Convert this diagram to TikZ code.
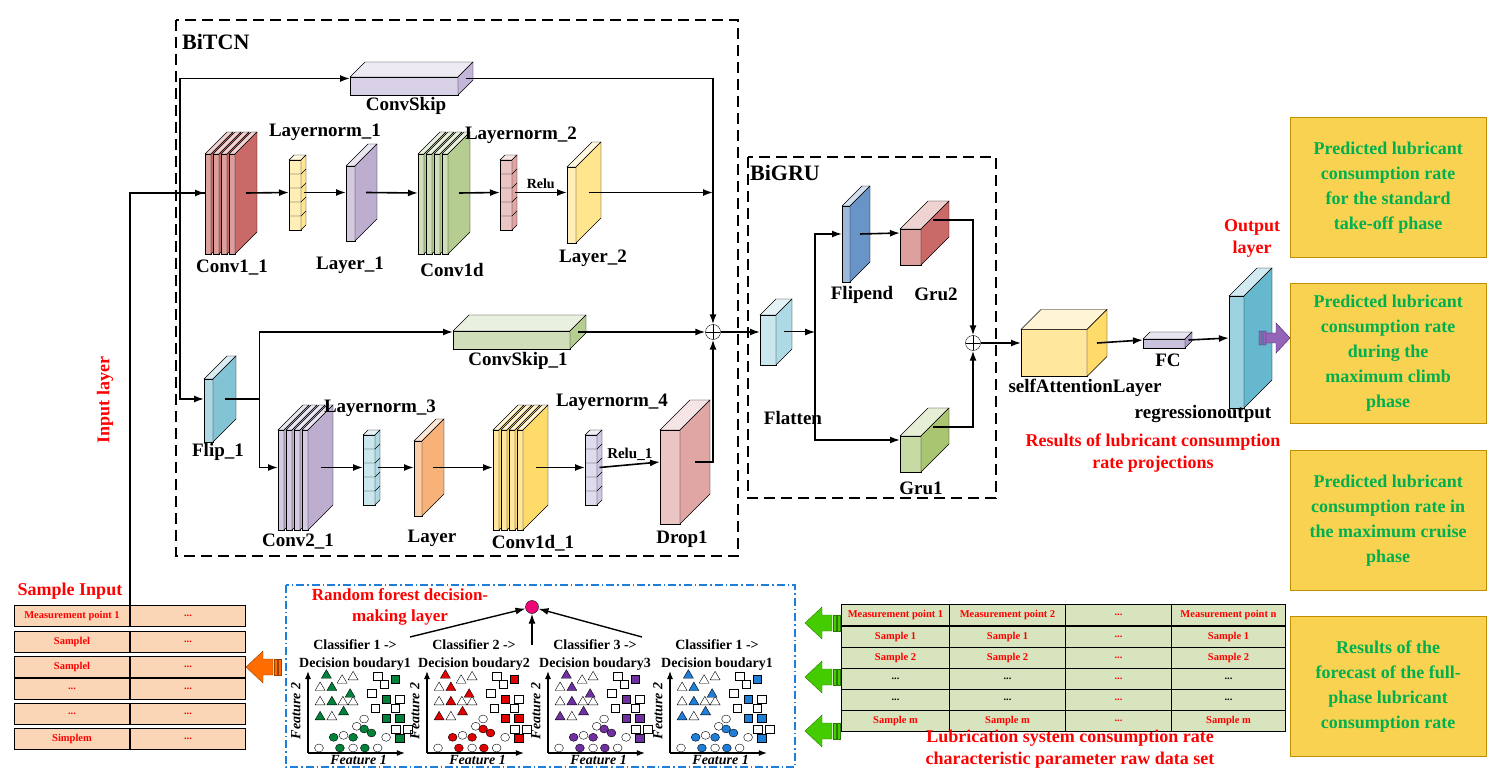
\documentclass[tikz,border=0pt]{standalone}
\usepackage{fontspec}
\setmainfont{Liberation Serif}
\usetikzlibrary{arrows.meta, positioning, calc}
\definecolor{cva}{HTML}{C0504D}
\definecolor{lna}{HTML}{FFE07A}
\definecolor{lya}{HTML}{B1A0C7}
\definecolor{cvb}{HTML}{A9C47F}
\definecolor{lnb}{HTML}{D99694}
\definecolor{skp}{HTML}{B8A9D1}
\definecolor{skq}{HTML}{A9C47F}
\definecolor{flp}{HTML}{6CB8CC}
\definecolor{cvc}{HTML}{B1A0C7}
\definecolor{lnc}{HTML}{9FD3E0}
\definecolor{lyb}{HTML}{F4A460}
\definecolor{cvd}{HTML}{FFD54F}
\definecolor{lnd}{HTML}{C5BCDD}
\definecolor{drp}{HTML}{D99694}
\definecolor{fle}{HTML}{4F81BD}
\definecolor{gra}{HTML}{C0504D}
\definecolor{grb}{HTML}{9BBB59}
\definecolor{att}{HTML}{FFD54F}
\definecolor{fcc}{HTML}{9F8FC0}
\definecolor{rgo}{HTML}{4BACC6}
\definecolor{gold}{HTML}{F9D251}
\definecolor{goldb}{HTML}{BF9000}
\definecolor{txg}{HTML}{00B050}
\definecolor{peach}{HTML}{FAD6B6}
\definecolor{sage}{HTML}{D7E4BD}
\definecolor{fgreen}{HTML}{00823B}
\definecolor{fred}{HTML}{E00000}
\definecolor{fpurple}{HTML}{7030A0}
\definecolor{fblue}{HTML}{1F7FD8}
\tikzset{%
	blk/.style={draw, rectangle, inner sep=0pt, outer sep=0pt},
	con/.style={-{Latex[length=10pt,width=7pt]}, line width=1.6pt},
	lbl/.style={font=\fontsize{19}{21}\selectfont\bfseries, inner sep=0pt},
	rlbl/.style={font=\fontsize{18}{22}\selectfont\bfseries, text=red, inner sep=0pt, align=center},
	glbl/.style={font=\fontsize{18}{25}\selectfont\bfseries, text=txg, align=center},
	plus/.style={circle, draw, fill=white, minimum size=15pt, inner sep=0pt,
		path picture={\draw (path picture bounding box.north) -- (path picture bounding box.south)
			(path picture bounding box.west) -- (path picture bounding box.east);}},
	frame/.style={dashed, line width=1.8pt, dash pattern=on 11pt off 6pt},
	outbox/.style={draw=goldb, fill=gold, minimum width=196pt, minimum height=140pt, anchor=north west},
	cell/.style={draw, line width=1pt, inner sep=0pt, anchor=north west, minimum height=21pt,
		font=\fontsize{10.5}{12}\selectfont\bfseries}
}
\newcommand\cuboid[7]{% name, x, y, width, height, depth, colour
	\node[blk, fill=#7!55!white, minimum width=#4pt, minimum height=#5pt, anchor=north west] (#1) at (#2,#3) {};
	\draw[fill=#7!25!white] (#1.north west) -- ++(#6,-#6) -- ++(#4,0) -- (#1.north east) -- cycle;
	\draw[fill=#7!85!white] (#1.north east) -- ++(#6,-#6) -- ++(0,#5) -- (#1.south east) -- cycle;
	\coordinate (#1-i) at ($(#1.west)+(0,-#6/2)$);
	\coordinate (#1-o) at ($(#1.east)+(#6/2,-#6/2)$);}
\newcommand\slabs[7]{% name, x, y, slab width, height, depth, colour
	\foreach \k in {0,...,3}{\cuboid{#1\k}{#2+\k*8}{#3}{#4}{#5}{#6}{#7}}}
\newcommand\cells[6]{% name, x, y, width, cell height, colour
	\cuboid{#1}{#2}{#3}{#4}{5*#5}{5}{#6}
	\foreach \j in {1,...,4}{\draw ([yshift={-\j*#5pt}]#1.north west) -- ++(#4,0) -- ++(5,-5);}}
\newcommand\larrow[3]{% tip x, y, colour
	\filldraw[fill=#3, draw=#3!60!black] (#1,#2) -- ++(17,-16) -- ++(0,8) -- ++(10,0) -- ++(0,16) -- ++(-10,0) -- ++(0,8) -- cycle;
	\filldraw[fill=#3, draw=#3!60!black] (#1+28,#2-8) rectangle ++(3,16) (#1+32,#2-8) rectangle ++(3,16);}
\newcommand\dd{...}
\def\trio{11/66, 31/73.3, 41/76.7, 11/51.7, 31.7/51.7, 41/51.7, 21.7/36.7}
\def\trif{16.7/78.3, 21.7/66, 38.3/59.3, 21.7/51.7, 32.3/41.7, 11/36.7}
\def\sqo{63.3/76.7, 69.3/69, 57.7/60, 83.3/54.3, 61/45, 79.3/45, 80/24.3, 90.7/24.3}
\def\sqf{79.3/74, 71/54.3, 71/35, 83.3/35, 83.3/15}
\def\cio{51/34, 44.3/26.7, 32.3/17.7, 71/15.7, 10/5, 41/5, 63.3/5}
\def\cif{51/24, 57.7/20, 23.3/15.7, 41/15.7, 29/5, 51.7/5}
\begin{document}
\begin{tikzpicture}[x=1pt, y=-1pt]
\useasboundingbox (0,0) rectangle (1489,775);

% BiTCN
\draw[frame] (176,20) rectangle (738,556);
\node[lbl, anchor=west, font=\fontsize{22}{24}\selectfont\bfseries] at (182,42) {BiTCN};
\cuboid{skip}{350}{77}{108}{18}{15}{skp}
\slabs{c1}{205}{154}{6}{100}{22}{cva}
\cells{ln1}{289}{160}{12}{14}{lna}
\cuboid{lay1}{346}{166}{9}{75}{22}{lya}
\slabs{cd}{418}{154}{6}{100}{22}{cvb}
\cells{ln2}{500}{160}{12}{14}{lnb}
\cuboid{lay2}{567}{167}{9}{76}{25}{lna}
\node[plus] (pl1) at (713,332) {};
\cuboid{flip}{204}{379}{9}{63}{23}{flp}
\cuboid{skipb}{453}{331}{117}{18}{16}{skq}
\slabs{cv}{278}{430}{6}{100}{25}{cvc}
\cells{ln3}{363}{435}{12}{14}{lnc}
\cuboid{lay}{414}{441}{8}{75}{22}{lyb}
\slabs{ce}{493}{430}{6}{100}{25}{cvd}
\cells{ln4}{585}{435}{12}{14}{lnd}
\cuboid{drop}{660}{430}{20}{94}{30}{drp}

\node[lbl] at (406,106) {ConvSkip};
\node[lbl] at (325,132) {Layernorm\_1};
\node[lbl] at (232,268) {Conv1\_1};
\node[lbl] at (350,265) {Layer\_1};
\node[lbl] at (452,270) {Conv1d};
\node[lbl] at (521,135) {Layernorm\_2};
\node[lbl] at (593,258) {Layer\_2};
\node[lbl] at (518,361) {ConvSkip\_1};
\node[lbl] at (218,452) {Flip\_1};
\node[lbl] at (298,542) {Conv2\_1};
\node[lbl] at (380,408) {Layernorm\_3};
\node[lbl] at (432,538) {Layer};
\node[lbl] at (533,543) {Conv1d\_1};
\node[lbl] at (612,402) {Layernorm\_4};
\node[lbl] at (682,539) {Drop1};

% BiGRU
\draw[frame] (748,157) rectangle (996,498);
\node[lbl, anchor=west, font=\fontsize{22}{24}\selectfont\bfseries] at (750,173) {BiGRU};
\cuboid{flat}{760}{315}{16}{50}{16}{lnc}
\cuboid{fe}{842}{206}{8}{76}{20}{fle}
\cuboid{g2}{900}{229}{21}{36}{28}{gra}
\cuboid{g1}{900}{436}{21}{36}{28}{grb}
\node[plus] (pl2) at (973,343) {};
\cuboid{att}{1021}{329.5}{66}{47}{20}{att}
\cuboid{fc}{1143}{339}{42}{9}{7}{fcc}
\cuboid{reg}{1229}{296}{15}{112}{28}{rgo}
\filldraw[fill=fpurple!75!white, draw=fpurple!60!black] (1259,331) rectangle (1262,345) (1263,331) rectangle (1266,345)
	(1266,333) -- (1276,333) -- (1276,323) -- (1290,338) -- (1276,353) -- (1276,343) -- (1266,343) -- cycle;

\node[lbl] at (793,418) {Flatten};
\node[lbl] at (862,295) {Flipend};
\node[lbl] at (936,294) {Gru2};
\node[lbl] at (921,488) {Gru1};
\node[lbl] at (1085,388) {selfAttentionLayer};
\node[lbl] at (1168,360) {FC};
\node[lbl] at (1203,414) {regressionoutput};
\node[rlbl] at (1252,238) {Output\\layer};
\node[rlbl] at (1153,453) {Results of lubricant consumption\\rate projections};
\node[rlbl, rotate=90] at (105,400) {Input layer};

% connectors
\coordinate (sp) at (180,193);
\coordinate (sp2) at ($(flip-o)+(35,0)$);
\coordinate (sp3) at ($(flat-o)+(31,0)$);
\draw[con] (sp) |- (skip-i);
\draw[con] (skip-o) -| (pl1.north);
\draw[con] (sp) |- (flip-i);
\draw[con] (c13-o) -- (ln1-i);
\draw[con] (ln1-o) -- (lay1-i);
\draw[con] (lay1-o) -- (cd0-i);
\draw[con] (cd3-o) -- (ln2-i);
\draw[con] (ln2-o) -- node[above, font=\fontsize{14}{16}\selectfont\bfseries]{Relu} (lay2-i);
\draw[con] (lay2-o) -- (lay2-o -| pl1);
\draw[line width=1.6pt] (flip-o) -- (sp2);
\draw[con] (sp2) |- (skipb-i);
\draw[con] (skipb-o) -- (pl1.west);
\draw[con] (sp2) |- (cv0-i);
\draw[con] (cv3-o) -- (ln3-i);
\draw[con] (ln3-o) -- (lay-i);
\draw[con] (lay-o) -- (ce0-i);
\draw[con] (ce3-o) -- (ln4-i);
\draw[con] (ln4-o) -- node[above, font=\fontsize{15}{17}\selectfont\bfseries]{Relu\_1} (drop-i);
\draw[con] (drop-o) -| (pl1.south);
\draw[con] (pl1.east) -- (flat-i);
\draw[con, line width=1pt] (flat-o) -- (sp3);
\draw[con] (sp3) |- (fe-i);
\draw[con] (sp3) |- (g1-i);
\draw[con] (fe-o) -- (g2-i);
\draw[con] ($(g2.north east)+(12,-9)$) -| (pl2.north);
\draw[con] ($(g1.north east)+(12,-9)$) -| (pl2.south);
\draw[con] (pl2.east) -- (att-i);
\draw[con] (att-o) -- (fc-i);
\draw[con] (fc-o) -- (reg-i);

% output boxes
\node[outbox] (o1) at (1290,117) {};
\node[outbox] (o2) at (1290,283) {};
\node[outbox] (o3) at (1290,450) {};
\node[outbox] (o4) at (1290,616) {};
\node[glbl] at (o1) {Predicted lubricant\\consumption rate\\for the standard\\take-off phase};
\node[glbl] at (o2) {Predicted lubricant\\consumption rate\\during the\\maximum climb\\phase};
\node[glbl] at (o3) {Predicted lubricant\\consumption rate in\\the maximum cruise\\phase};
\node[glbl] at (o4) {Results of the\\forecast of the full-\\phase lubricant\\consumption rate};

% sample input table
\node[rlbl, font=\fontsize{18}{20}\selectfont\bfseries] at (70,591) {Sample Input};
\foreach \i/\y/\t in {1/605/Measurement point 1, 2/631/Samplel, 3/656/Samplel, 4/678/\dd, 5/703/\dd, 6/728/Simplem}{
	\node[cell, fill=peach, minimum width=115pt, text=red] (L\i a) at (14,\y) {\t};
	\node[cell, fill=peach, minimum width=115pt, text=red] (L\i b) at (130,\y) {\dd};
}
\draw[line width=1.6pt] (L1a.north east) |- (c10-i);
\draw[-{Latex[length=10pt,width=7pt]}, line width=1.6pt] (sp |- c10-i) -- (c10-i);
\larrow{246}{667}{orange!85!red}

% raw data table
\foreach \i/\y/\ta/\tb/\tc/\td/\cl in {1/604/Measurement point 1/Measurement point 2/\dd/Measurement point n/red,
	2/626/Sample 1/Sample 1/\dd/Sample 1/red, 3/647/Sample 2/Sample 2/\dd/Sample 2/red,
	4/668/\dd/\dd/\dd/\dd/black, 5/689/\dd/\dd/\dd/\dd/black, 6/710/Sample m/Sample m/\dd/Sample m/red}{
	\node[cell, fill=sage, minimum width=108pt, text=\cl] (R\i a) at (841,\y) {\ta};
	\node[cell, fill=sage, minimum width=116pt, text=\cl] (R\i b) at (949,\y) {\tb};
	\node[cell, fill=sage, minimum width=106pt, text=red] (R\i c) at (1065,\y) {\tc};
	\node[cell, fill=sage, minimum width=114pt, text=\cl] (R\i d) at (1171,\y) {\td};
}
\larrow{805}{623}{green!55!lime!80!black}
\larrow{805}{677}{green!55!lime!80!black}
\larrow{805}{731}{green!55!lime!80!black}
\node[rlbl] at (1070,749) {Lubrication system consumption rate\\characteristic parameter raw data set};

% random forest
\draw[draw=fblue, line width=1.2pt, dash pattern=on 8pt off 3pt on 1.5pt off 3pt] (286,585) rectangle (795,767);
\node[rlbl, font=\fontsize{17}{21}\selectfont\bfseries] at (400,607) {Random forest decision-\\making layer};
\node[circle, draw, fill=magenta!80!red, minimum size=13pt, inner sep=0pt] (vote) at (532,607) {};
\draw[con, line width=1.4pt] (410,637) -- (vote);
\draw[con, line width=1.4pt] (532,645) -- (vote);
\draw[con, line width=1.4pt] (642,637) -- (vote);
\foreach \ox/\cl/\k in {308/fgreen/1, 427/fred/2, 548/fpurple/3, 670/fblue/1}{
	\node[font=\fontsize{14}{18}\selectfont\bfseries, align=center, inner sep=0pt] at (\ox+47,655) {Classifier \k\ ->\\Decision boudary\k};
	\begin{scope}[shift={(\ox,753)}, x=1.1pt]
		\draw[-{Latex[length=8pt,width=6pt]}, line width=1.1pt] (0,0) -- (0,-82);
		\draw[-{Latex[length=8pt,width=6pt]}, line width=1.1pt] (0,0) -- (88,0);
		\node[rotate=90, font=\fontsize{14}{16}\selectfont\bfseries\itshape, inner sep=0pt] at (-11,-42) {Feature 2};
		\node[font=\fontsize{14}{16}\selectfont\bfseries\itshape, inner sep=0pt] at (46,7) {Feature 1};
		\foreach \a/\b in \trio {\draw[fill=white] (\a,-\b-5) -- ++(-4.5,8.5) -- ++(9,0) -- cycle;}
		\foreach \a/\b in \trif {\draw[fill=\cl] (\a,-\b-5) -- ++(-4.5,8.5) -- ++(9,0) -- cycle;}
		\foreach \a/\b in \sqo {\draw[fill=white] (\a-4,-\b-4) rectangle ++(8,8);}
		\foreach \a/\b in \sqf {\draw[fill=\cl] (\a-4,-\b-4) rectangle ++(8,8);}
		\foreach \a/\b in \cio {\draw[fill=white] (\a,-\b) circle (4);}
		\foreach \a/\b in \cif {\draw[fill=\cl] (\a,-\b) circle (4);}
	\end{scope}
}
\end{tikzpicture}
\end{document}
